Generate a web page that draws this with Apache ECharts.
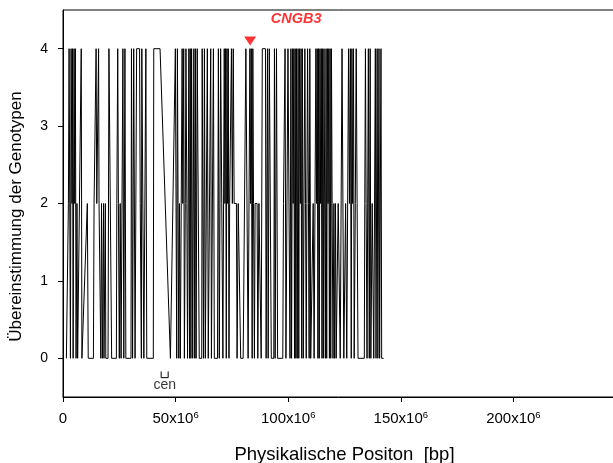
<!DOCTYPE html>
<html>
<head>
<meta charset="utf-8">
<script src="https://cdn.jsdelivr.net/npm/echarts@6/dist/echarts.min.js"></script>
<style>
  html, body { margin: 0; padding: 0; background: #fff; }
  #chart { width: 613px; height: 463px; }
</style>
</head>
<body>
<div id="chart"></div>
<script>
// Marker positions along the chromosome, in Mb
const positionsMb = [
  1.5, 2.2, 2.4, 2.7, 3.1, 3.3, 3.6, 4.0, 4.2, 4.5, 4.9, 5.2, 5.5, 5.8, 6.2, 6.5, 7.3, 8.1, 8.4, 9.0,
  10.8, 11.2, 13.5, 13.8, 14.3, 14.7, 15.0, 15.8, 16.0, 16.6, 16.8, 17.1, 17.5, 18.0, 18.2, 18.8, 19.0, 20.0, 20.4, 21.0,
  21.6, 23.7, 23.9, 24.3, 24.6, 25.0, 25.4, 25.8, 26.6, 27.0, 27.5, 27.9, 30.2, 30.4, 30.9, 31.4, 31.8, 32.0, 32.5, 32.7,
  34.0, 34.3, 34.6, 34.8, 35.0, 35.7, 35.9, 36.6, 36.8, 37.2, 40.1, 40.3, 43.1, 47.7, 49.9,
  50.3, 50.5, 50.8, 51.1, 51.4, 51.7, 52.1, 52.5, 52.9, 53.2, 53.6, 53.9, 54.3, 54.6, 55.0, 55.3, 55.9, 56.2, 56.5, 56.8,
  57.1, 57.4, 57.6, 58.1, 58.5, 58.8, 59.1, 59.6, 60.2, 60.5, 61.6, 61.8, 62.4, 62.8, 63.2, 64.1, 64.5, 65.6, 65.9, 66.8,
  67.2, 68.6, 69.0, 69.4, 70.0, 70.5, 71.0, 71.6, 71.9, 72.2, 72.5, 72.8, 73.1, 73.4, 73.7, 74.0, 74.8, 75.2, 75.6, 76.0,
  77.0, 77.3, 77.8, 78.6, 78.9, 80.0, 81.2, 81.9, 82.2, 82.8, 83.0, 83.3, 83.6, 84.0, 84.3, 84.6, 85.0, 85.3, 86.2, 86.5,
  87.0, 87.7, 88.0, 88.5, 89.9, 90.2, 90.8, 91.1, 91.6, 92.2, 92.5, 93.6, 93.9, 94.2, 94.8, 95.3, 97.6, 97.9, 98.4, 98.6,
  99.0, 99.9, 100.5, 100.8, 101.2, 101.5, 101.9, 102.2, 102.5, 102.8, 103.1, 103.4, 103.7, 104.0, 104.4,
  104.7, 105.0, 105.4, 105.7, 106.0, 106.3, 106.7, 107.0, 107.4, 107.7, 108.0, 108.3, 108.6, 109.0, 109.3, 109.6, 110.0, 110.8, 111.1, 111.5,
  111.9, 112.3, 112.6, 112.9, 113.2, 113.5, 113.8, 114.1, 114.4, 114.7, 115.0, 115.3, 115.6, 115.9, 116.2, 116.5, 116.8, 117.1, 117.4, 117.7,
  118.0, 118.3, 118.6, 118.9, 119.2, 119.5, 119.9, 120.3, 120.6, 121.0, 121.3, 121.9, 122.2, 122.8, 123.1, 123.6, 123.9, 124.4, 124.7, 125.2,
  125.5, 126.0, 126.8, 127.2, 127.6, 128.0, 128.3, 128.6, 129.0, 129.3, 129.8, 130.2, 130.6, 131.0, 133.8, 134.0, 134.3, 134.6, 135.0, 135.6,
  136.0, 136.4, 136.7, 137.3, 137.7, 138.0, 138.7, 139.0, 139.5, 139.8, 140.3, 140.6, 141.2, 141.5, 142.4
];

// Genotype concordance at each marker
const concordance = [
  0, 0, 2, 4, 4, 0, 4, 2, 4, 0, 4, 2, 4, 0, 2, 0, 0, 4, 0, 0,
  2, 0, 0, 2, 2, 4, 2, 4, 2, 2, 0, 2, 0, 2, 0, 2, 0, 0, 4, 4,
  0, 0, 2, 4, 2, 0, 2, 0, 4, 0, 4, 0, 0, 4, 0, 4, 4, 0, 0, 4,
  4, 2, 2, 0, 4, 4, 0, 0, 4, 0, 0, 4, 4, 0, 4,
  4, 0, 4, 2, 0, 2, 0, 2, 4, 2, 4, 0, 2, 4, 2, 0, 4, 0, 4, 0,
  4, 4, 0, 4, 0, 4, 0, 4, 4, 0, 0, 4, 0, 4, 0, 4, 0, 4, 0, 4,
  0, 0, 4, 0, 4, 2, 0, 4, 2, 4, 0, 4, 2, 4, 0, 2, 4, 2, 4, 2,
  2, 0, 2, 2, 0, 0, 4, 4, 0, 0, 4, 2, 4, 0, 4, 2, 0, 2, 2, 0,
  2, 2, 0, 4, 4, 0, 4, 0, 4, 4, 0, 0, 4, 0, 4, 0, 0, 2, 2, 4,
  0, 4, 4, 0, 4, 0, 4, 2, 4, 0, 4, 0, 4, 0, 4,
  0, 4, 2, 4, 0, 4, 0, 2, 4, 2, 0, 2, 4, 2, 0, 4, 0, 0, 2, 0,
  2, 4, 2, 4, 0, 4, 0, 4, 2, 4, 0, 4, 0, 4, 4, 0, 4, 0, 4, 2,
  4, 0, 4, 0, 4, 2, 0, 2, 0, 2, 0, 0, 2, 2, 0, 0, 4, 4, 0, 0,
  2, 0, 4, 2, 4, 0, 4, 2, 4, 0, 2, 4, 2, 0, 0, 2, 4, 2, 0, 4,
  0, 4, 0, 2, 2, 0, 4, 0, 4, 0, 4, 0, 4, 0, 0
];

// Axis tick values
const xTicksMb = [0, 50, 100, 150, 200];
const yTicks = [0, 1, 2, 3, 4];

// Gene of interest
const geneName = 'CNGB3';
const genePosMb = 83.1;

// Centromere span, in Mb
const centromereMb = [43.6, 46.7];

const FONT = '"Liberation Sans", Arial, sans-serif';

const lineData = positionsMb.map((p, i) => [p, concordance[i]]);

const chart = echarts.init(document.getElementById('chart'), null, { renderer: 'canvas' });

chart.setOption({
  animation: false,
  grid: {
    left: 63, top: 10, right: -13, bottom: 66,
    outerBoundsMode: 'none', containLabel: false,
    show: true, borderColor: '#000', borderWidth: 1, backgroundColor: 'transparent'
  },
  xAxis: {
    type: 'value', min: 0, max: 250, interval: 50,
    name: 'Physikalische Positon  [bp]', nameLocation: 'middle', nameGap: 48,
    nameTextStyle: { fontFamily: FONT, fontSize: 18.5, color: '#000' },
    axisLine: { show: true, onZero: false, lineStyle: { color: '#000', width: 1 } },
    axisTick: { show: true, inside: false, length: 5, lineStyle: { color: '#000' },
      customValues: xTicksMb },
    axisLabel: {
      margin: 13, color: '#000', fontFamily: FONT, fontSize: 15,
      customValues: xTicksMb,
      formatter: v => v === 0 ? '{n|0}' : '{n|' + v + 'x10}{s|6}',
      rich: {
        n: { fontFamily: FONT, fontSize: 15, color: '#000', lineHeight: 17 },
        s: { fontFamily: FONT, fontSize: 9.5, color: '#000', verticalAlign: 'top', lineHeight: 9 }
      }
    },
    splitLine: { show: false }
  },
  yAxis: {
    type: 'value', min: -0.5, max: 4.5,
    name: 'Übereinstimmung der Genotypen', nameLocation: 'middle', nameGap: 38,
    nameTextStyle: { fontFamily: FONT, fontSize: 17, color: '#000', padding: [0, 26, 0, 0] },
    axisLine: { show: true, onZero: false, lineStyle: { color: '#000', width: 1 } },
    axisTick: { show: true, inside: false, length: 5, lineStyle: { color: '#000' },
      customValues: yTicks },
    axisLabel: { margin: 15, color: '#000', fontFamily: FONT, fontSize: 14, customValues: yTicks },
    splitLine: { show: false }
  },
  series: [
    {
      type: 'line',
      data: lineData,
      showSymbol: false,
      symbol: 'none',
      lineStyle: { color: '#000', width: 1 },
      z: 2
    },
    {
      // gene marker with its name
      type: 'scatter',
      data: [[genePosMb, 4.1]],
      symbol: 'triangle',
      symbolRotate: 180,
      symbolSize: [12, 9],
      itemStyle: { color: '#ff0000' },
      label: {
        show: true, formatter: geneName, position: 'top', offset: [46, -5],
        color: '#ff0000', fontFamily: FONT, fontSize: 14.5, fontWeight: 'bold', fontStyle: 'italic'
      },
      z: 5
    },
    {
      // centromere bracket
      type: 'line',
      data: [[centromereMb[0], -0.17], [centromereMb[0], -0.25], [centromereMb[1], -0.25], [centromereMb[1], -0.17]],
      showSymbol: false, symbol: 'none',
      lineStyle: { color: '#000', width: 1 },
      z: 3
    },
    {
      type: 'scatter',
      data: [[(centromereMb[0] + centromereMb[1]) / 2, -0.25]],
      symbolSize: 0,
      label: {
        show: true, formatter: 'cen', position: 'bottom', distance: 0,
        color: '#000', fontFamily: FONT, fontSize: 14
      }
    }
  ]
});
</script>
</body>
</html>
